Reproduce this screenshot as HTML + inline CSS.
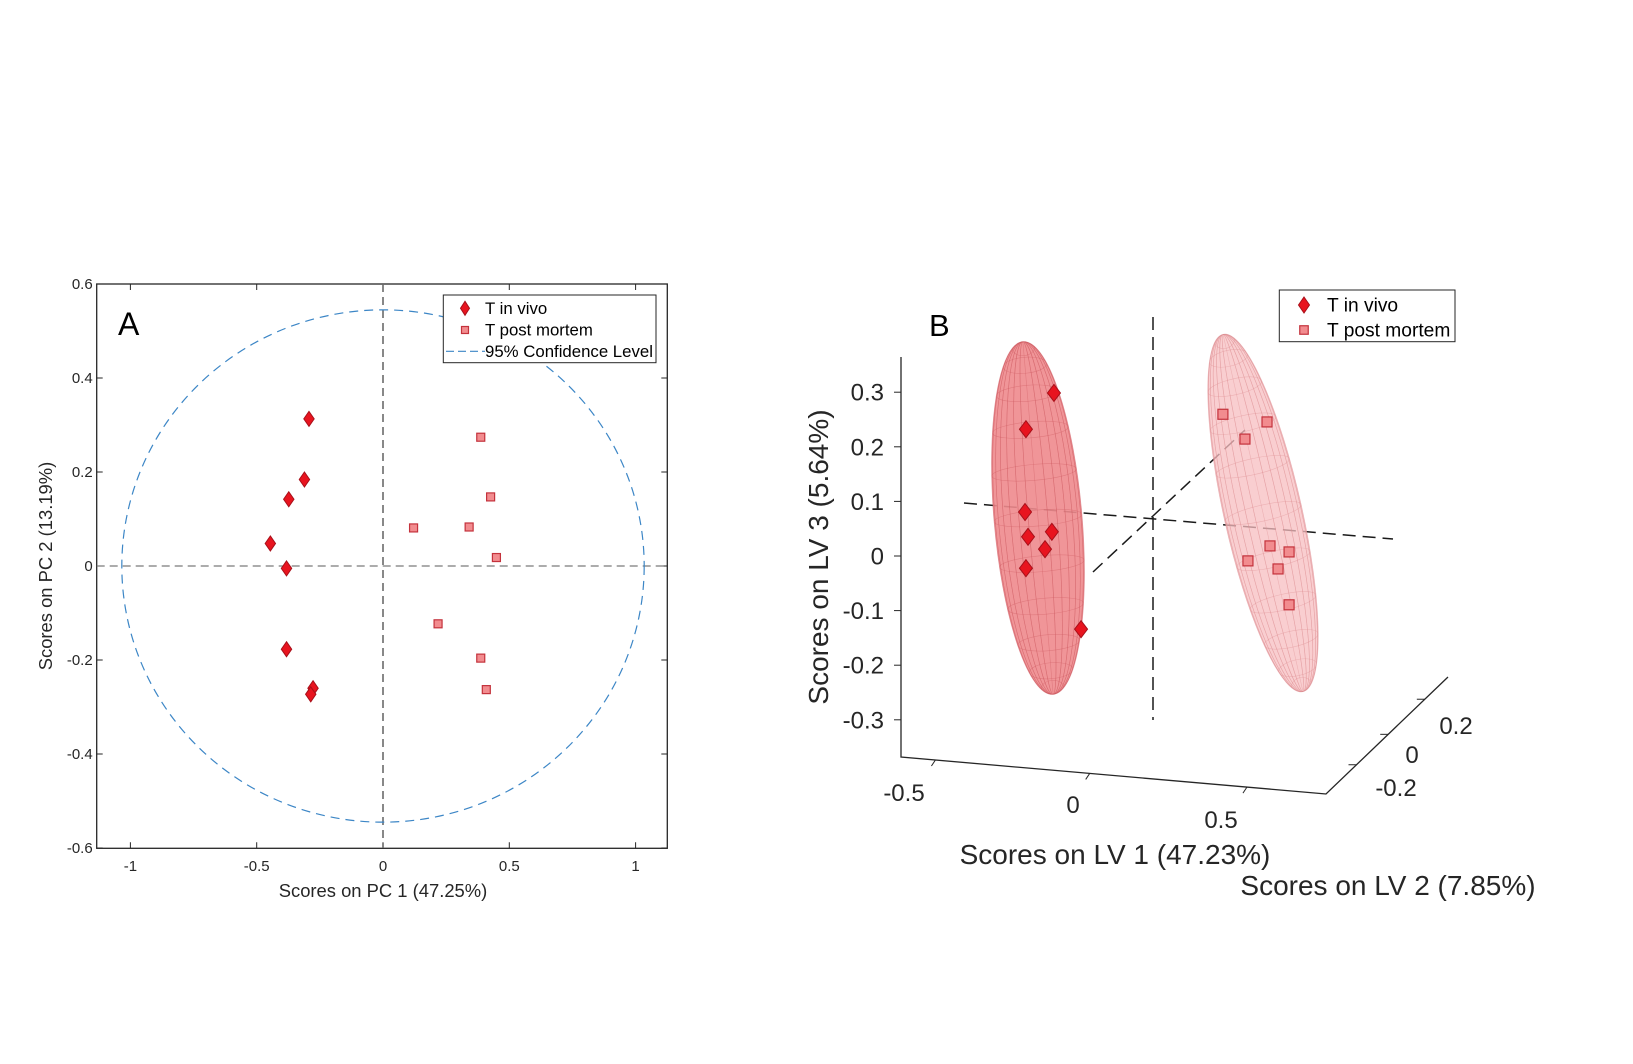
<!DOCTYPE html>
<html><head><meta charset="utf-8"><style>
html,body{margin:0;padding:0;background:#fff;}
svg{display:block;font-family:"Liberation Sans",Arial,sans-serif;}
</style></head><body>
<svg id="fig" width="1633" height="1064" viewBox="0 0 1633 1064" xmlns="http://www.w3.org/2000/svg">
<defs>
<clipPath id="clipA"><rect x="96.7" y="284" width="570.6" height="564"/></clipPath>
</defs>
<rect width="1633" height="1064" fill="#fff"/>
<g id="panelA"></g>
<g id="panelB"></g>
</svg>
<script>
// ---------- Panel A data ----------
const xTicksA = [-1, -0.5, 0, 0.5, 1];
const xTickLabelsA = ["-1", "-0.5", "0", "0.5", "1"];
const yTicksA = [-0.6, -0.4, -0.2, 0, 0.2, 0.4, 0.6];
const yTickLabelsA = ["-0.6", "-0.4", "-0.2", "0", "0.2", "0.4", "0.6"];
const vivoPC1 = [-0.293, -0.311, -0.373, -0.446, -0.382, -0.382, -0.277, -0.286];
const vivoPC2 = [0.313, 0.184, 0.142, 0.048, -0.005, -0.177, -0.260, -0.273];
const mortemPC1 = [0.387, 0.426, 0.121, 0.341, 0.449, 0.218, 0.387, 0.409];
const mortemPC2 = [0.274, 0.147, 0.081, 0.083, 0.018, -0.123, -0.196, -0.263];
const confRadiusA = [1.034, 0.545];

// ---------- Panel B data ----------
const lv3Ticks = [-0.3, -0.2, -0.1, 0, 0.1, 0.2, 0.3];
const lv3TickLabels = ["-0.3", "-0.2", "-0.1", "0", "0.1", "0.2", "0.3"];
const lv1TickLabels = ["-0.5", "0", "0.5"];
const lv2TickLabels = ["0.2", "0", "-0.2"];
const vivoLV1 = [-0.074, -0.168, -0.171, -0.161, -0.081, -0.104, -0.168, 0.017];
const vivoLV3 = [0.302, 0.231, 0.079, 0.034, 0.047, 0.014, -0.024, -0.127];
const mortemLV1 = [0.493, 0.641, 0.567, 0.651, 0.715, 0.577, 0.678, 0.715];
const mortemLV3 = [0.290, 0.283, 0.248, 0.056, 0.048, 0.025, 0.015, -0.049];

const NS = "http://www.w3.org/2000/svg";
function mk(parent, tag, attrs, text) {
  const e = document.createElementNS(NS, tag);
  for (const k in attrs) e.setAttribute(k, attrs[k]);
  if (text !== undefined) e.textContent = text;
  parent.appendChild(e);
  return e;
}
function diamond(g, cx, cy, hw, hh) {
  return mk(g, "path", {d:`M${cx},${cy-hh}L${cx+hw},${cy}L${cx},${cy+hh}L${cx-hw},${cy}Z`, fill:"#e8141f", stroke:"#a8101a", "stroke-width":1});
}
function square(g, cx, cy, s) {
  return mk(g, "rect", {x:cx-s/2, y:cy-s/2, width:s, height:s, fill:"#f28c8f", stroke:"#c4323c", "stroke-width":1.2});
}

// ===== Panel A =====
const A = document.getElementById("panelA");
const L=96.7, R=667.3, T=284, B=848.3;
const sx = v => 383 + v*252.6;
const sy = v => 566 - v*470;
mk(A,"rect",{x:L,y:T,width:R-L,height:B-T,fill:"none",stroke:"#262626","stroke-width":1.3});
xTicksA.forEach((t,i)=>{
  const x=sx(t);
  const tk=mk(A,"path",{d:`M${x},${B}V${B-6}M${x},${T}V${T+6}`,stroke:"#262626","stroke-width":1});
  
  
  const lb=mk(A,"text",{x:x,y:871,"text-anchor":"middle","font-size":15,fill:"#262626"},xTickLabelsA[i]);
  
  
});
yTicksA.forEach((t,i)=>{
  const y=sy(t);
  const tk=mk(A,"path",{d:`M${L},${y}H${L+6}M${R},${y}H${R-6}`,stroke:"#262626","stroke-width":1});
  
  
  const lb=mk(A,"text",{x:L-4,y:y+5,"text-anchor":"end","font-size":15,fill:"#262626"},yTickLabelsA[i]);
  
  
});
const gA = mk(A,"g",{"clip-path":"url(#clipA)"});
const zx = mk(gA,"line",{x1:L,x2:R,y1:sy(0),y2:sy(0),stroke:"#7a7a7a","stroke-width":1.2,"stroke-dasharray":"8,5"});


const zy = mk(gA,"line",{x1:sx(0),x2:sx(0),y1:T,y2:B,stroke:"#6a6a6a","stroke-width":1.6,"stroke-dasharray":"8,5"});


const circ = mk(gA,"ellipse",{cx:sx(0),cy:sy(0),rx:sx(confRadiusA[0])-sx(0),ry:sy(0)-sy(confRadiusA[1]),fill:"none",stroke:"#3c86c6","stroke-width":1.2,"stroke-dasharray":"9,6"});


vivoPC1.forEach((v,i)=>{
  const d=diamond(gA,sx(v),sy(vivoPC2[i]),5.2,7.5);
  
  
});
mortemPC1.forEach((v,i)=>{
  const s=square(gA,sx(v),sy(mortemPC2[i]),8);
  
  
});
const labA=mk(A,"text",{x:118,y:335,"font-size":32,fill:"#000"},"A");


const xtA=mk(A,"text",{x:383,y:897,"text-anchor":"middle","font-size":18.4,fill:"#262626"},"Scores on PC 1 (47.25%)");


const ytA=mk(A,"text",{x:0,y:0,"text-anchor":"middle","font-size":18.4,fill:"#262626",transform:`translate(52,${sy(0)}) rotate(-90)`},"Scores on PC 2 (13.19%)");


// legend A
const lgA=mk(A,"g",{});


mk(lgA,"rect",{x:443.3,y:295,width:212.7,height:67.7,fill:"#fff",stroke:"#262626","stroke-width":1});
diamond(lgA,465,308.3,4.5,7);
mk(lgA,"text",{x:485,y:314,"font-size":16.8,fill:"#000"},"T in vivo");
square(lgA,465,330,7);
mk(lgA,"text",{x:485,y:335.5,"font-size":16.8,fill:"#000"},"T post mortem");
mk(lgA,"line",{x1:446,x2:485,y1:351.3,y2:351.3,stroke:"#3c86c6","stroke-width":1.2,"stroke-dasharray":"8,4"});
mk(lgA,"text",{x:485,y:357,"font-size":16.8,fill:"#000"},"95% Confidence Level");

// ===== Panel B =====
const PB = document.getElementById("panelB");
const px = v => 1076 + v*298;
const py = (l1,l3) => 559.5 - l3*545 + l1*26;
const ly = v => 556 - v*546;
mk(PB,"path",{d:"M901,357V757L1326,794L1448,677",fill:"none",stroke:"#262626","stroke-width":1.3});
lv3Ticks.forEach((t,i)=>{
  const y=ly(t);
  mk(PB,"line",{x1:901,x2:894,y1:y,y2:y,stroke:"#262626","stroke-width":1});
  const lb=mk(PB,"text",{x:884,y:y+8.5,"text-anchor":"end","font-size":24,fill:"#262626"},lv3TickLabels[i]);
  
  
});
const fr=[0.081,0.444,0.814];
const lv1LabPos=[[904,801],[1073,813],[1221,828]];
fr.forEach((f,i)=>{
  const x=901+f*425, y=757+f*37;
  mk(PB,"line",{x1:x,y1:y,x2:x-4,y2:y+6,stroke:"#262626","stroke-width":1});
  const lb=mk(PB,"text",{x:lv1LabPos[i][0],y:lv1LabPos[i][1],"text-anchor":"middle","font-size":24,fill:"#262626"},lv1TickLabels[i]);
  
  
});
const dfr=[0.81,0.51,0.25];
const lv2LabPos=[[1456,734],[1412,763],[1396,796]];
dfr.forEach((f,i)=>{
  const x=1326+f*122, y=794-f*117;
  mk(PB,"line",{x1:x,y1:y,x2:x-8,y2:y,stroke:"#262626","stroke-width":1});
  const lb=mk(PB,"text",{x:lv2LabPos[i][0],y:lv2LabPos[i][1],"text-anchor":"middle","font-size":24,fill:"#262626"},lv2TickLabels[i]);
  
  
});
const t1=mk(PB,"text",{x:1115,y:864,"text-anchor":"middle","font-size":28,fill:"#262626"},"Scores on LV 1 (47.23%)");


const t2=mk(PB,"text",{x:1388,y:895,"text-anchor":"middle","font-size":28,fill:"#262626"},"Scores on LV 2 (7.85%)");


const t3=mk(PB,"text",{x:0,y:0,"text-anchor":"middle","font-size":28,fill:"#262626",transform:"translate(828,557) rotate(-90)"},"Scores on LV 3 (5.64%)");


const labB=mk(PB,"text",{x:929,y:336,"font-size":31,fill:"#000"},"B");



function ellipsoid(cx,cy,a,b,ang,fill,line,op,name){
  const g=mk(PB,"g",{transform:`translate(${cx},${cy}) rotate(${ang})`});
  
  
  const id="cl"+name;
  const cp=mk(g,"clipPath",{id:id});
  mk(cp,"ellipse",{cx:0,cy:0,rx:b,ry:a});
  mk(g,"ellipse",{cx:0,cy:0,rx:b,ry:a,fill:fill,"fill-opacity":op,stroke:line,"stroke-width":0.8,"stroke-opacity":0.6});
  const m=mk(g,"g",{"clip-path":`url(#${id})`,stroke:line,"stroke-width":0.6,fill:"none","stroke-opacity":0.45});
  for(let k=1;k<14;k++){
    const r=Math.abs(b*Math.cos(k*Math.PI/14));
    mk(m,"ellipse",{cx:0,cy:0,rx:r,ry:a});
  }
  for(let k=1;k<12;k++){
    const t=k*Math.PI/12;
    mk(m,"ellipse",{cx:0,cy:a*Math.cos(t),rx:b*Math.sin(t),ry:8});
  }
  return g;
}
const dl=mk(PB,"g",{stroke:"#1a1a1a","stroke-width":1.5,fill:"none","stroke-dasharray":"13,7"});


mk(dl,"line",{x1:1093,y1:572,x2:1245,y2:430});
ellipsoid(1038,518,177,44,-4.9,"#ee8a8d","#cf5a62",0.9,"ellipsoid-in-vivo");
ellipsoid(1263,513,183,39,-12.6,"#f7bdc0","#dd8d93",0.75,"ellipsoid-post-mortem");
mk(dl,"line",{x1:1153,y1:317,x2:1153,y2:720});
mk(dl,"line",{x1:964,y1:503,x2:1393,y2:539});
vivoLV1.forEach((v,i)=>{
  const d=diamond(PB,px(v),py(v,vivoLV3[i]),6.5,8.5);
  
  
});
mortemLV1.forEach((v,i)=>{
  const s=square(PB,px(v),py(v,mortemLV3[i]),10);
  
  
});
const lgB=mk(PB,"g",{});


mk(lgB,"rect",{x:1279.3,y:290,width:175.7,height:51.7,fill:"#fff",stroke:"#262626","stroke-width":1});
diamond(lgB,1304,305,5.5,8);
mk(lgB,"text",{x:1327,y:311.5,"font-size":19.2,fill:"#000"},"T in vivo");
square(lgB,1304,330,8.5);
mk(lgB,"text",{x:1327,y:336.5,"font-size":19.2,fill:"#000"},"T post mortem");
</script>
</body></html>
